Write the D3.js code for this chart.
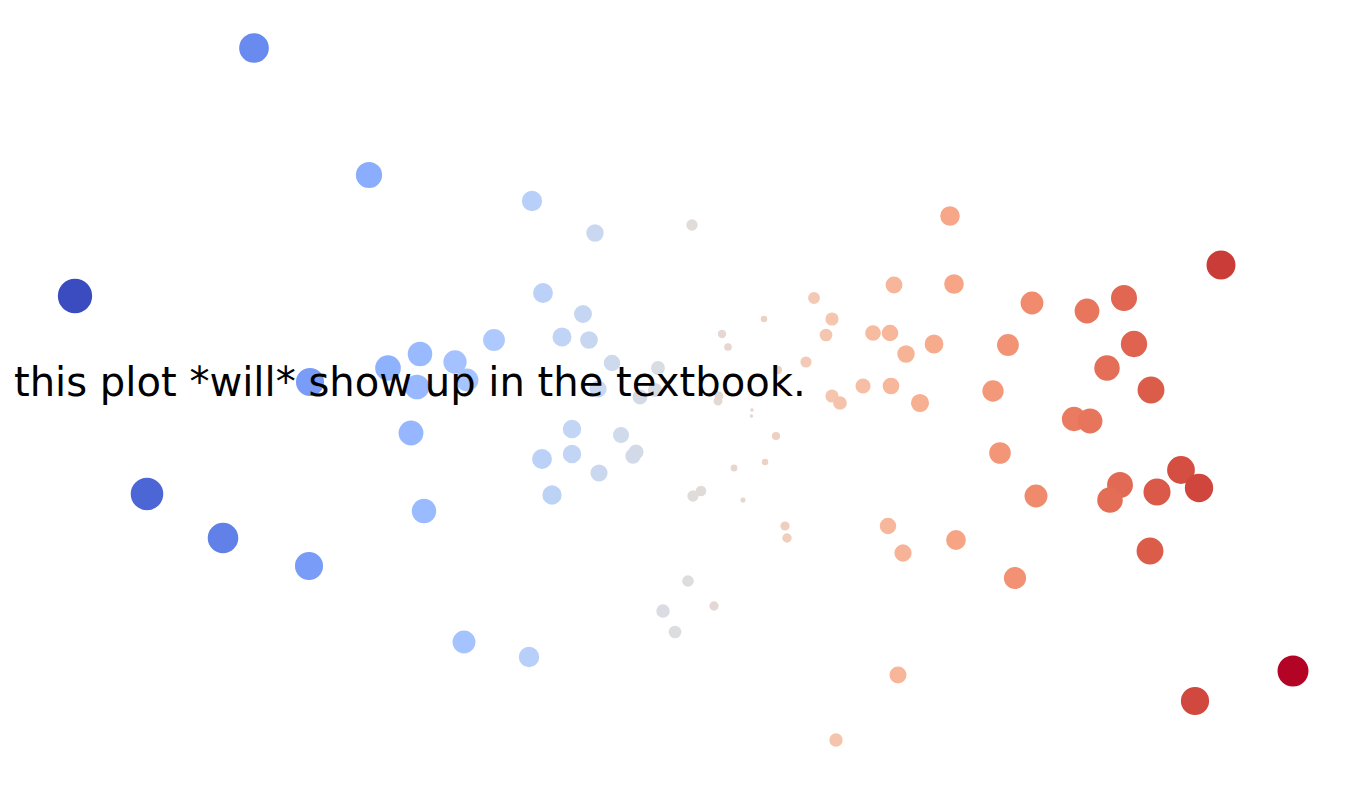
<!DOCTYPE html>
<html>
<head>
<meta charset="utf-8">
<script src="https://cdn.jsdelivr.net/npm/d3@7"></script>
<style>
  html, body { margin: 0; padding: 0; background: #ffffff; }
  svg { display: block; }
</style>
</head>
<body>
<svg id="chart" width="1367" height="789"></svg>
<script>
// ---- data ----
const xValues = [
  -1.984, -1.524, -2.700, -1.760, -1.448, -1.320, -1.180, -1.332, -1.132, -1.356,
  -2.412, -2.108, -1.764, -1.304, -1.144, -0.884,
  -0.872, -0.620, -0.828, -0.668, -1.024, -0.752, -0.644, -0.552, -0.368, -0.608,
  -0.440, -0.380, -0.712, -0.516, -0.456, -0.468, -0.832, -0.712, -0.604, -0.792,
  -0.232, -0.112, -0.088, -0.124, -0.128, 0.008, 0.006, -0.196, -0.228, -0.064,
  0.060, 0.104, -0.028, 0.140, 0.148, -0.248, -0.348, -0.144, -0.300, 0.056, 0.112,
  0.256, 0.328, 0.304, 0.224, 0.492, 0.560, 0.576, 0.816, 0.736, 0.624,
  0.452, 0.564, 0.328, 0.360, 0.680, 0.800, 0.552, 0.612, 0.824, 0.592, 0.344,
  1.884, 1.128, 1.348, 1.496, 1.032, 1.536, 1.428, 0.972, 1.604, 1.296,
  1.360, 1.000, 1.144, 1.480, 1.440, 1.628, 1.724, 1.796, 1.600, 1.060, 1.780, 2.172
];
const yValues = [
  1.408, 0.900, 0.416, 0.072, 0.128, 0.184, 0.152, 0.052, 0.080, -0.132,
  -0.376, -0.552, -0.664, -0.444, -0.968, -1.028,
  0.796, 0.668, 0.428, 0.344, 0.240, 0.252, 0.240, 0.148, 0.128, 0.044,
  0.012, 0.040, -0.116, -0.140, -0.208, -0.224, -0.236, -0.216, -0.292, -0.380,
  0.700, 0.264, 0.212, 0.016, -0.004, -0.040, -0.064, -0.364, -0.384, -0.272,
  -0.248, -0.144, -0.400, -0.504, -0.552, -0.724, -0.844, -0.824, -0.928, 0.324, 0.120,
  0.408, 0.324, 0.260, 0.152, 0.268, 0.268, 0.460, 0.464, 0.224, 0.184,
  0.056, 0.056, 0.016, -0.012, -0.012, 0.736, -0.504, -0.612, -0.560, -1.100, -1.360,
  0.540, 0.388, 0.356, 0.408, 0.220, 0.224, 0.128, 0.036, 0.040, -0.076,
  -0.084, -0.212, -0.384, -0.340, -0.400, -0.368, -0.280, -0.352, -0.604, -0.712, -1.204, -1.084
];
const caption = "this plot *will* show up in the textbook.";

// coolwarm colormap (Moreland) stops
const coolwarmStops = [
  "rgb(59,76,192)", "rgb(68,90,204)", "rgb(77,104,215)", "rgb(87,117,225)",
  "rgb(98,130,234)", "rgb(108,142,241)", "rgb(119,154,247)", "rgb(130,165,251)",
  "rgb(141,176,254)", "rgb(152,185,255)", "rgb(163,194,255)", "rgb(174,201,253)",
  "rgb(184,208,249)", "rgb(194,213,244)", "rgb(204,217,238)", "rgb(213,219,230)",
  "rgb(221,221,221)", "rgb(229,216,209)", "rgb(236,211,197)", "rgb(241,204,185)",
  "rgb(245,196,173)", "rgb(247,187,160)", "rgb(247,177,148)", "rgb(247,166,135)",
  "rgb(244,154,123)", "rgb(241,141,111)", "rgb(236,127,99)", "rgb(229,112,88)",
  "rgb(222,96,77)", "rgb(213,80,66)", "rgb(203,62,56)", "rgb(192,40,47)",
  "rgb(180,4,38)"
];

// ---- chart ----
const svg = d3.select("#chart");

const x = d3.scaleLinear().domain([-3, 3]).range([0, 1500]);
const y = d3.scaleLinear().domain([-3, 3]).range([1150, -350]);
const r = d3.scaleSqrt().domain([0, 1]).range([0, 9.9]);
const color = d3.scaleSequential(d3.piecewise(d3.interpolateRgb, coolwarmStops))
  .domain(d3.extent(xValues));

const points = xValues.map((v, i) => ({ x: v, y: yValues[i] }));

svg.append("g")
  .selectAll("circle")
  .data(points)
  .join("circle")
  .attr("cx", d => x(d.x))
  .attr("cy", d => y(d.y))
  .attr("r", d => r(Math.abs(d.x)))
  .attr("fill", d => color(d.x))
  .attr("stroke", d => color(d.x))
  .attr("stroke-width", 1.8);

svg.append("text")
  .attr("x", 14)
  .attr("y", 396)
  .attr("font-family", "'DejaVu Sans', sans-serif")
  .attr("font-size", 40.1)
  .attr("fill", "#000000")
  .text(caption);
</script>
</body>
</html>
